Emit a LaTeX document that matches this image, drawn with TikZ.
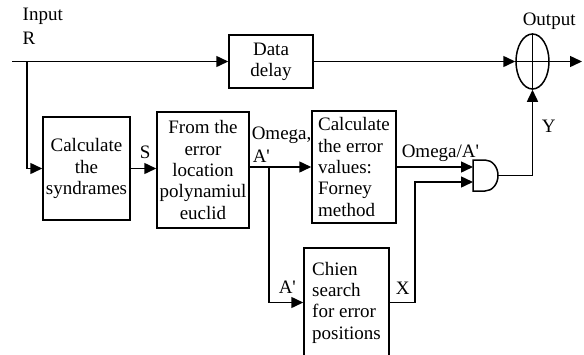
\documentclass[tikz,border=0pt]{standalone}
\usepackage{fontspec}
\setmainfont{Liberation Serif}
\usetikzlibrary{arrows.meta,shapes.geometric}
\begin{document}
\begin{tikzpicture}[x=1pt,y=-1pt,
  line width=1.5pt,
  every node/.style={font=\fontsize{19}{21.3}\selectfont},
  blk/.style={draw,inner sep=0pt,align=center},
  lblk/.style={draw,inner sep=0pt,align=left},
  lbl/.style={inner sep=0pt,anchor=base west},
  arr/.style={-{Triangle[length=12pt,width=11pt]}}]
\useasboundingbox (0,0) rectangle (584,354);
% blocks
\node[blk,minimum width=84pt,minimum height=53pt] (delay) at (271,61.5) {Data\\delay};
\node[blk,minimum width=87pt,minimum height=103pt] (calc) at (86.5,168.5) {Calculate\\the\\syndrames};
\node[blk,minimum width=92pt,minimum height=116pt] (from) at (203,170) {From the\\error\\location\\polynamiul\\euclid};
\node[lblk,minimum width=84pt,minimum height=112pt] (err) at (354,167) {Calculate\\the error\\values:\\Forney\\method};
\node[lblk,minimum width=85pt,minimum height=109pt] (chien) at (346.5,302.5) {Chien\\search\\for error\\positions};
\node[draw,ellipse,inner sep=0pt,minimum width=33pt,minimum height=55pt] (xor) at (532.5,61.5) {};
\draw (xor.north) -- (xor.south);
% AND gate
\coordinate (andin1) at (473,167);
\coordinate (andin2) at (473,182);
\coordinate (andout) at (498,175.5);
\draw (473,160) -- (485,160) arc[start angle=-90,end angle=90,x radius=13pt,y radius=-15.5pt] -- (473,191) -- cycle;
% coordinates
\coordinate (inp) at (12,61.5);
\coordinate (brin) at (27,61.5);
\coordinate (bra) at (269,167);
\coordinate (xbend) at (415,302.5);
\coordinate (out) at (582,61.5);
% connectors
\draw[arr] (inp) -- (delay.west);
\draw[arr] (brin) |- (calc.west);
\draw[arr] (calc.east) -- (calc.east -| from.west);
\draw[arr] (err.west -| from.east) -- (err.west);
\draw[arr] (bra) |- (chien.west);
\draw[arr] (err.east) -- (andin1);
\draw[arr] (chien.east) -- (xbend) |- (andin2);
\draw[arr] (andout) -| (xor.south);
\draw[arr] (delay.east) -- (xor.west);
\draw (xor.west) -- (xor.east);
\draw[arr] (xor.east) -- (out);
% labels
\node[lbl] (linput) at (22,20) {Input};
\node[lbl] (lr) at (22,44) {R};
\node[lbl] (lout) at (522,25) {Output};
\node[lbl] (ly) at (541,132) {Y};
\node[lbl] (ls) at (139,158) {S};
\node[lbl] (lom) at (251,139) {Omega,};
\node[lbl] (la1) at (252,162) {A\textquotesingle};
\node[lbl] (loa) at (401,157) {Omega/A\textquotesingle};
\node[lbl] (la2) at (278,293) {A\textquotesingle};
\node[lbl] (lx) at (395,294) {X};
\end{tikzpicture}
\end{document}
